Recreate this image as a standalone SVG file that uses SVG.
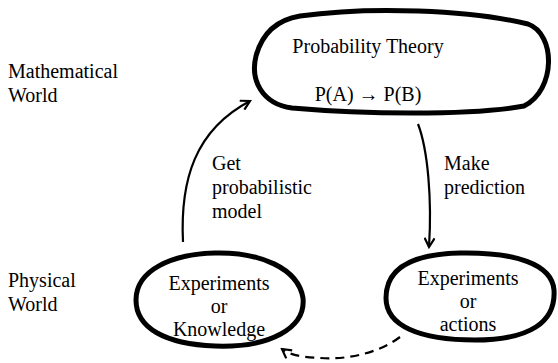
<svg xmlns="http://www.w3.org/2000/svg" width="558" height="363" viewBox="0 0 558 363">
<style>
text{font-family:"Liberation Serif","DejaVu Serif","Noto Serif",serif;font-size:20px;fill:#000}
.blob{fill:none;stroke:#000;stroke-width:5;stroke-linejoin:round}
.con{fill:none;stroke:#000;stroke-width:2.2}
</style>
<defs>
<marker id="ah" viewBox="0 0 12 12" refX="10" refY="6" markerWidth="12" markerHeight="12" markerUnits="userSpaceOnUse" orient="auto">
<path d="M1,1 L10,6 L1,11" fill="none" stroke="#000" stroke-width="2.2"/>
</marker>
</defs>
<rect width="558" height="363" fill="#fff"/>
<g font-family="Liberation Serif, DejaVu Serif, serif">
<text x="8" y="78">Mathematical</text>
<text x="8" y="102">World</text>
<text x="8" y="287">Physical</text>
<text x="8" y="311">World</text>
<g id="top">
<path class="blob" d="M300,16 C370,6 470,10 528,24 C556,34 556,90 524,106 C470,116 360,114 292,108 C262,104 250,80 256,56 C262,34 276,20 300,16 Z"/>
<text x="368" y="53" text-anchor="middle">Probability Theory</text>
<text x="368" y="101" text-anchor="middle">P(A) → P(B)</text>
</g>
<g id="bl">
<path class="blob" d="M215,253 C260,252 298,268 303,298 C306,328 270,348 215,346 C165,344 136,328 136,300 C136,270 172,254 215,253 Z"/>
<text x="219" y="290" text-anchor="middle">Experiments</text>
<text x="219" y="313" text-anchor="middle">or</text>
<text x="219" y="336" text-anchor="middle">Knowledge</text>
</g>
<g id="br">
<path class="blob" d="M460,253 C515,252 552,264 554,290 C556,322 530,340 475,340 C420,340 386,326 386,298 C386,268 412,254 460,253 Z"/>
<text x="468" y="285" text-anchor="middle">Experiments</text>
<text x="468" y="308" text-anchor="middle">or</text>
<text x="468" y="331" text-anchor="middle">actions</text>
</g>
<g id="labels">
<text x="212" y="170">Get</text>
<text x="212" y="194">probabilistic</text>
<text x="212" y="218">model</text>
<text x="444" y="170">Make</text>
<text x="444" y="194">prediction</text>
</g>
</g>
<g id="connectors">
<path class="con" d="M183,242 C180,180 195,130 250,101" marker-end="url(#ah)"/>
<path class="con" d="M418,124 C428,150 432,200 429,247" marker-end="url(#ah)"/>
<path class="con" stroke-dasharray="9,6" d="M400,337 C380,352 350,360 320,358 C300,357 290,355 282,349" marker-end="url(#ah)"/>
</g>
</svg>
